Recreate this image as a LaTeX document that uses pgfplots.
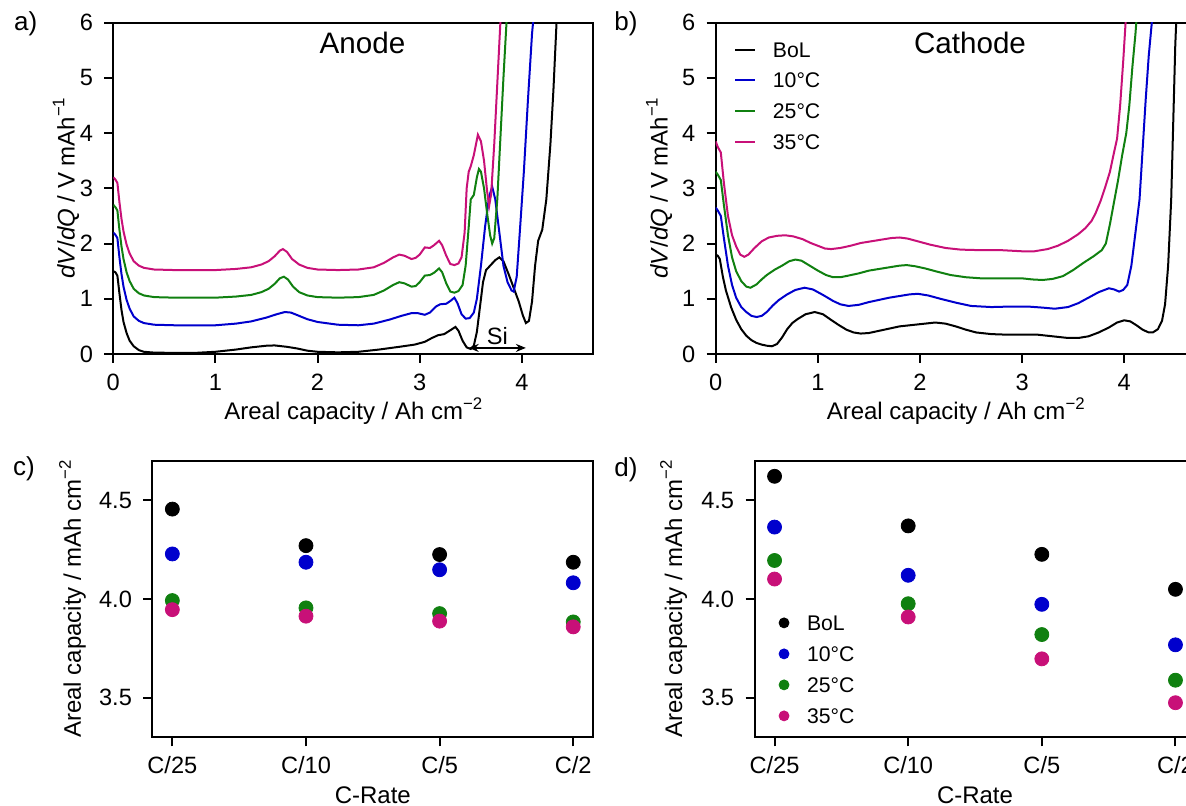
\documentclass[border=0pt]{standalone}
\usepackage{fontspec}
\setmainfont{Liberation Sans}
\usepackage{pgfplots}
\pgfplotsset{compat=1.18}
\usetikzlibrary{arrows.meta}

\definecolor{cblue}{RGB}{0,0,205}
\definecolor{cgreen}{RGB}{16,128,16}
\definecolor{cpink}{RGB}{200,16,120}

\newcommand{\sups}[1]{\raisebox{0.42em}{\fontsize{8.4}{9}\selectfont #1}}
\newcommand{\fsz}{\fontsize{11.8}{14}\selectfont}
\newcommand{\lsz}{\fontsize{12}{14}\selectfont}

\pgfplotsset{
  base/.style={
    scale only axis, anchor=south west,
    axis line style={line width=1pt},
    every tick/.style={black, line width=1pt},
    tick align=outside, major tick length=4.5pt,
    xtick pos=bottom, ytick pos=left,
    /pgf/number format/assume math mode=true,
    tick label style={font=\fsz, inner sep=0pt},
    xticklabel style={anchor=base, yshift=-13.6pt},
    yticklabel style={anchor=east, xshift=-5.5pt},
    every axis x label/.style={at={(axis description cs:0.5,0)}, anchor=base, yshift=-33pt, font=\lsz, inner sep=0pt},
    clip=true,
  },
  curve/.style={line width=1pt, no markers},
  dots/.style={only marks, mark=*, mark size=3.5pt, mark options={draw=none}},
}

\begin{document}
\begin{tikzpicture}
\useasboundingbox (0,0) rectangle (593pt,403pt);
\clip (0,0) rectangle (593pt,403pt);

% ---------------- a) Anode
\begin{axis}[base, at={(56.65pt,226pt)}, width=240pt, height=165.65pt,
  xmin=0, xmax=4.7, ymin=0, ymax=6, xtick={0,1,2,3,4}, ytick={0,1,2,3,4,5,6},
  xlabel={Areal capacity / Ah cm\sups{−2}},
  every axis y label/.style={at={(axis description cs:-0.0808,0.5)}, rotate=90, anchor=base, font=\lsz, inner sep=0pt},
  ylabel={\textit{dV}/\textit{dQ} / V mAh\sups{−1}}]
\addplot[curve, black] coordinates {(0,1.5)(0.02,1.48)(0.04,1.42)(0.06,1.1)(0.08,0.8)(0.1,0.58)(0.13,0.38)(0.16,0.24)(0.2,0.14)(0.25,0.07)(0.3,0.04)(0.4,0.025)(0.6,0.02)(0.8,0.02)(1.0,0.04)(1.2,0.08)(1.35,0.12)(1.5,0.15)(1.58,0.155)(1.7,0.13)(1.8,0.1)(1.9,0.06)(2.0,0.04)(2.2,0.03)(2.4,0.04)(2.6,0.08)(2.8,0.13)(2.95,0.17)(3.05,0.22)(3.12,0.29)(3.18,0.34)(3.24,0.36)(3.3,0.43)(3.35,0.49)(3.38,0.42)(3.42,0.24)(3.46,0.12)(3.5,0.09)(3.53,0.15)(3.56,0.4)(3.59,0.85)(3.62,1.3)(3.65,1.52)(3.69,1.6)(3.74,1.7)(3.78,1.75)(3.82,1.68)(3.87,1.45)(3.92,1.2)(3.97,0.95)(4.01,0.7)(4.04,0.56)(4.07,0.6)(4.1,0.95)(4.13,1.6)(4.16,2.05)(4.2,2.25)(4.24,2.8)(4.28,3.8)(4.31,4.8)(4.34,6.0)(4.36,7)};
\addplot[curve, cblue] coordinates {(0,2.2)(0.02,2.16)(0.04,2.1)(0.06,1.75)(0.08,1.45)(0.1,1.22)(0.13,0.98)(0.16,0.82)(0.2,0.68)(0.25,0.6)(0.3,0.56)(0.4,0.53)(0.6,0.52)(0.8,0.52)(1.0,0.52)(1.2,0.55)(1.35,0.59)(1.5,0.66)(1.6,0.72)(1.68,0.76)(1.74,0.75)(1.82,0.69)(1.9,0.63)(2.0,0.58)(2.2,0.53)(2.4,0.52)(2.55,0.55)(2.7,0.62)(2.82,0.69)(2.92,0.74)(2.98,0.74)(3.05,0.71)(3.1,0.75)(3.16,0.86)(3.2,0.9)(3.26,0.91)(3.3,0.96)(3.34,1.02)(3.37,0.92)(3.41,0.72)(3.45,0.64)(3.49,0.65)(3.53,0.75)(3.56,1.0)(3.6,1.6)(3.64,2.3)(3.68,2.85)(3.71,3.03)(3.74,2.8)(3.78,2.2)(3.82,1.6)(3.86,1.3)(3.9,1.15)(3.92,1.13)(3.95,1.4)(3.98,2.2)(4.02,3.3)(4.06,4.6)(4.1,5.8)(4.12,6.2)(4.14,7)};
\addplot[curve, cgreen] coordinates {(0,2.7)(0.02,2.66)(0.04,2.6)(0.06,2.25)(0.08,1.95)(0.1,1.72)(0.13,1.48)(0.16,1.32)(0.2,1.18)(0.25,1.1)(0.3,1.06)(0.4,1.03)(0.6,1.02)(0.8,1.02)(1.0,1.02)(1.2,1.04)(1.35,1.07)(1.45,1.12)(1.52,1.18)(1.58,1.27)(1.63,1.37)(1.67,1.4)(1.71,1.35)(1.76,1.22)(1.82,1.12)(1.9,1.06)(2.0,1.03)(2.2,1.02)(2.4,1.03)(2.55,1.07)(2.65,1.15)(2.74,1.25)(2.8,1.3)(2.85,1.28)(2.92,1.22)(2.96,1.23)(3.0,1.3)(3.05,1.42)(3.1,1.43)(3.14,1.47)(3.19,1.55)(3.22,1.48)(3.26,1.28)(3.3,1.13)(3.34,1.11)(3.38,1.14)(3.42,1.25)(3.45,1.6)(3.48,2.3)(3.5,2.8)(3.53,2.88)(3.56,3.2)(3.58,3.35)(3.6,3.3)(3.63,3.0)(3.66,2.55)(3.69,2.15)(3.71,2.0)(3.73,2.1)(3.76,2.8)(3.79,3.9)(3.82,5.0)(3.85,6.0)(3.87,7)};
\addplot[curve, cpink] coordinates {(0,3.2)(0.02,3.16)(0.04,3.1)(0.06,2.75)(0.08,2.45)(0.1,2.22)(0.13,1.98)(0.16,1.82)(0.2,1.68)(0.25,1.6)(0.3,1.56)(0.4,1.53)(0.6,1.52)(0.8,1.52)(1.0,1.52)(1.2,1.54)(1.35,1.57)(1.45,1.62)(1.52,1.68)(1.58,1.77)(1.63,1.87)(1.66,1.9)(1.7,1.85)(1.75,1.72)(1.82,1.62)(1.9,1.56)(2.0,1.53)(2.2,1.52)(2.4,1.53)(2.55,1.57)(2.65,1.65)(2.74,1.75)(2.8,1.8)(2.85,1.78)(2.92,1.72)(2.96,1.74)(3.0,1.8)(3.05,1.93)(3.1,1.92)(3.14,1.97)(3.19,2.05)(3.22,1.97)(3.26,1.78)(3.3,1.63)(3.34,1.61)(3.38,1.64)(3.41,1.75)(3.44,2.2)(3.46,3.0)(3.48,3.3)(3.5,3.4)(3.53,3.6)(3.57,3.97)(3.6,3.85)(3.63,3.5)(3.66,2.95)(3.68,2.68)(3.7,2.9)(3.73,3.8)(3.76,4.9)(3.79,6.0)(3.8,7)};
\draw[{Stealth[length=5pt,width=4pt]}-{Stealth[length=5pt,width=4pt]}, line width=0.9pt] (axis cs:3.48,0.11) -- (axis cs:4.04,0.11);
\node[font=\fsz] at (axis cs:3.76,0.33) {Si};
\node[font=\fontsize{14.8}{17}\selectfont] at (axis cs:2.44,5.63) {Anode};
\end{axis}

% ---------------- b) Cathode
\begin{axis}[base, at={(357.85pt,226pt)}, width=240pt, height=165.65pt,
  xmin=0, xmax=4.7, ymin=0, ymax=6, xtick={0,1,2,3,4}, ytick={0,1,2,3,4,5,6},
  xlabel={Areal capacity / Ah cm\sups{−2}},
  every axis y label/.style={at={(axis description cs:-0.1,0.5)}, rotate=90, anchor=base, font=\lsz, inner sep=0pt},
  ylabel={\textit{dV}/\textit{dQ} / V mAh\sups{−1}},
  legend cell align=left,
  legend image code/.code={\draw[#1] (0pt,0pt) -- (9.75pt,0pt);},
  legend style={draw=none, fill=none, at={(axis description cs:0.039,0.9466)}, anchor=north west,
    font=\fontsize{10.6}{12}\selectfont, inner sep=0pt, outer sep=0pt, row sep=5.8pt, column sep=7.5pt,
    nodes={inner sep=1pt, text height=7.5pt, text depth=0pt}}]
\addplot[curve, black] coordinates {(0,1.8)(0.02,1.78)(0.04,1.72)(0.07,1.4)(0.1,1.15)(0.15,0.85)(0.2,0.62)(0.25,0.45)(0.3,0.33)(0.35,0.25)(0.4,0.2)(0.45,0.17)(0.5,0.15)(0.55,0.14)(0.6,0.18)(0.65,0.3)(0.7,0.45)(0.75,0.56)(0.8,0.63)(0.88,0.72)(0.97,0.76)(1.05,0.72)(1.12,0.63)(1.2,0.53)(1.28,0.44)(1.35,0.39)(1.42,0.37)(1.5,0.38)(1.6,0.42)(1.7,0.46)(1.8,0.5)(1.9,0.52)(2.0,0.54)(2.15,0.57)(2.25,0.55)(2.35,0.5)(2.45,0.44)(2.55,0.39)(2.7,0.36)(2.85,0.35)(3.0,0.35)(3.15,0.35)(3.3,0.32)(3.45,0.29)(3.55,0.29)(3.65,0.32)(3.75,0.39)(3.85,0.48)(3.93,0.57)(4.0,0.61)(4.06,0.59)(4.12,0.52)(4.18,0.44)(4.24,0.39)(4.28,0.39)(4.33,0.45)(4.37,0.6)(4.4,0.9)(4.43,1.6)(4.46,2.8)(4.48,4.2)(4.5,5.6)(4.52,6.5)(4.53,7)};
\addlegendentry{BoL}
\addplot[curve, cblue] coordinates {(0,2.65)(0.02,2.6)(0.05,2.5)(0.08,2.1)(0.12,1.6)(0.16,1.25)(0.2,1.02)(0.25,0.85)(0.3,0.76)(0.35,0.69)(0.4,0.67)(0.45,0.69)(0.5,0.76)(0.56,0.88)(0.62,0.98)(0.7,1.08)(0.78,1.16)(0.87,1.2)(0.95,1.17)(1.05,1.07)(1.15,0.96)(1.22,0.9)(1.3,0.87)(1.4,0.89)(1.5,0.94)(1.6,0.98)(1.7,1.02)(1.8,1.05)(1.9,1.08)(1.98,1.09)(2.08,1.06)(2.2,1.0)(2.35,0.93)(2.5,0.87)(2.7,0.85)(2.9,0.86)(3.05,0.86)(3.2,0.84)(3.32,0.82)(3.45,0.85)(3.55,0.92)(3.65,1.02)(3.75,1.12)(3.85,1.19)(3.9,1.17)(3.95,1.13)(3.99,1.16)(4.03,1.25)(4.07,1.6)(4.11,2.2)(4.15,2.8)(4.18,3.7)(4.21,4.6)(4.24,5.4)(4.27,6.0)(4.29,7)};
\addlegendentry{10°C}
\addplot[curve, cgreen] coordinates {(0,3.3)(0.02,3.25)(0.05,3.15)(0.08,2.7)(0.12,2.15)(0.16,1.75)(0.2,1.5)(0.25,1.32)(0.3,1.22)(0.34,1.2)(0.4,1.26)(0.45,1.35)(0.5,1.43)(0.58,1.53)(0.65,1.6)(0.72,1.68)(0.78,1.71)(0.84,1.69)(0.92,1.6)(1.0,1.51)(1.08,1.43)(1.15,1.39)(1.22,1.39)(1.3,1.42)(1.4,1.46)(1.5,1.51)(1.6,1.54)(1.7,1.57)(1.8,1.6)(1.87,1.61)(1.95,1.59)(2.05,1.55)(2.15,1.5)(2.3,1.43)(2.45,1.39)(2.6,1.37)(2.8,1.37)(3.0,1.37)(3.1,1.35)(3.2,1.34)(3.3,1.36)(3.4,1.41)(3.5,1.52)(3.6,1.65)(3.7,1.77)(3.78,1.88)(3.82,2.0)(3.86,2.35)(3.9,2.75)(3.94,3.15)(3.98,3.6)(4.02,4.0)(4.05,4.5)(4.08,5.2)(4.11,5.8)(4.13,6.3)(4.14,7)};
\addlegendentry{25°C}
\addplot[curve, cpink] coordinates {(0,3.85)(0.02,3.75)(0.05,3.65)(0.08,3.1)(0.12,2.5)(0.16,2.15)(0.2,1.95)(0.24,1.8)(0.28,1.76)(0.32,1.8)(0.38,1.92)(0.45,2.04)(0.52,2.11)(0.6,2.14)(0.68,2.15)(0.76,2.13)(0.85,2.08)(0.93,2.01)(1.0,1.96)(1.07,1.91)(1.13,1.9)(1.22,1.92)(1.32,1.96)(1.42,2.01)(1.52,2.04)(1.62,2.07)(1.72,2.1)(1.8,2.11)(1.88,2.09)(1.98,2.04)(2.1,1.98)(2.25,1.92)(2.4,1.89)(2.6,1.88)(2.8,1.88)(3.0,1.86)(3.12,1.86)(3.25,1.9)(3.35,1.96)(3.45,2.05)(3.55,2.17)(3.62,2.28)(3.68,2.41)(3.72,2.55)(3.77,2.78)(3.81,3.0)(3.86,3.3)(3.9,3.65)(3.93,3.9)(3.96,4.5)(3.99,5.3)(4.01,5.9)(4.03,6.5)(4.04,7)};
\addlegendentry{35°C}
\node[font=\fontsize{14.8}{17}\selectfont] at (axis cs:2.49,5.63) {Cathode};
\end{axis}

% ---------------- c)
\begin{axis}[base, at={(76.15pt,34.35pt)}, width=220.5pt, height=138.3pt,
  xmin=-0.15, xmax=3.15, ymin=3.3, ymax=4.7, xtick={0,1,2,3}, xticklabels={C/25,C/10,C/5,C/2},
  ytick={3.5,4.0,4.5}, yticklabel style={/pgf/number format/.cd, fixed, fixed zerofill, precision=1},
  xlabel={C-Rate},
  every axis y label/.style={at={(axis description cs:-0.1617,0.5)}, rotate=90, anchor=base, font=\lsz, inner sep=0pt},
  ylabel={Areal capacity / mAh cm\sups{−2}}]
\addplot[dots, black] coordinates {(0,4.455)(1,4.270)(2,4.225)(3,4.186)};
\addplot[dots, cblue] coordinates {(0,4.228)(1,4.186)(2,4.148)(3,4.082)};
\addplot[dots, cgreen] coordinates {(0,3.992)(1,3.955)(2,3.926)(3,3.884)};
\addplot[dots, cpink] coordinates {(0,3.946)(1,3.913)(2,3.888)(3,3.859)};
\end{axis}

% ---------------- d)
\begin{axis}[base, at={(377.25pt,34.35pt)}, width=220.5pt, height=138.3pt,
  xmin=-0.15, xmax=3.15, ymin=3.3, ymax=4.7, xtick={0,1,2,3}, xticklabels={C/25,C/10,C/5,C/2},
  ytick={3.5,4.0,4.5}, yticklabel style={/pgf/number format/.cd, fixed, fixed zerofill, precision=1},
  xlabel={C-Rate},
  every axis y label/.style={at={(axis description cs:-0.1644,0.5)}, rotate=90, anchor=base, font=\lsz, inner sep=0pt},
  ylabel={Areal capacity / mAh cm\sups{−2}},
  legend cell align=left,
  legend image code/.code={\draw[#1, mark size=2.5pt] plot coordinates {(0pt,0pt)};},
  legend style={draw=none, fill=none, at={(axis description cs:0.0556,0.448)}, anchor=north west,
    font=\fontsize{10.6}{12}\selectfont, inner sep=0pt, outer sep=0pt, row sep=6pt, column sep=8pt,
    nodes={inner sep=1pt, text height=7.5pt, text depth=0pt}}]
\addplot[dots, black] coordinates {(0,4.621)(1,4.370)(2,4.226)(3,4.049)};
\addlegendentry{BoL}
\addplot[dots, cblue] coordinates {(0,4.364)(1,4.120)(2,3.973)(3,3.768)};
\addlegendentry{10°C}
\addplot[dots, cgreen] coordinates {(0,4.195)(1,3.976)(2,3.820)(3,3.589)};
\addlegendentry{25°C}
\addplot[dots, cpink] coordinates {(0,4.101)(1,3.909)(2,3.697)(3,3.475)};
\addlegendentry{35°C}
\end{axis}

% panel labels
\node[font=\fontsize{13}{15}\selectfont] at (12.9pt,391pt) {a)};
\node[font=\fontsize{13}{15}\selectfont] at (313pt,391pt) {b)};
\node[font=\fontsize{13}{15}\selectfont] at (12pt,168.5pt) {c)};
\node[font=\fontsize{13}{15}\selectfont] at (313pt,168pt) {d)};
\end{tikzpicture}
\end{document}
